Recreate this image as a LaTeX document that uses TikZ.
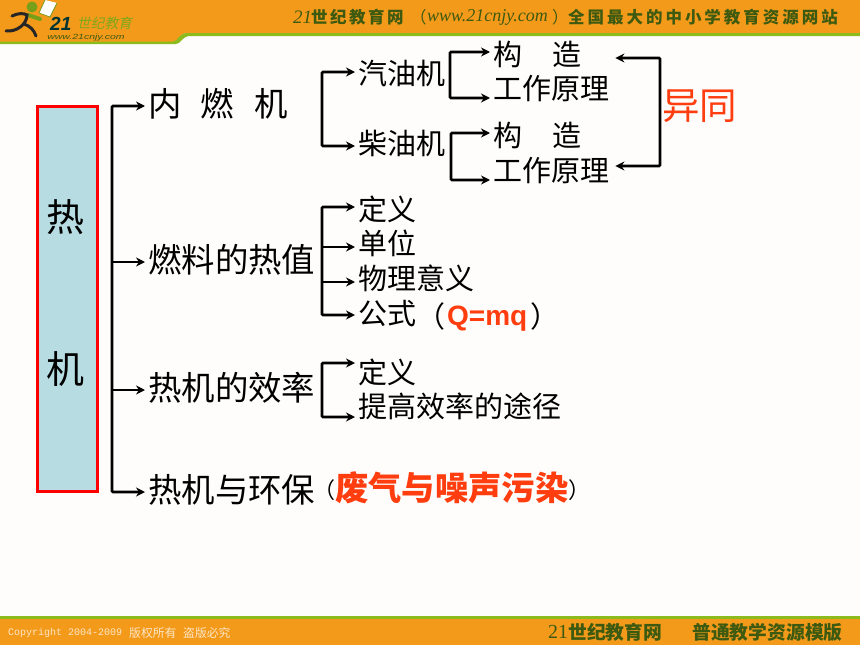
\documentclass[tikz,border=0pt]{standalone}
\usepackage{fontspec}
\setmainfont{Noto Sans CJK SC}
\newfontfamily\latinit{Liberation Serif}
\newfontfamily\latinb{Liberation Sans}
\newfontfamily\latinm{Liberation Mono}
\newfontfamily\logocjk[FakeSlant=0.2]{Noto Sans CJK SC}
\usetikzlibrary{arrows.meta}
\definecolor{bandor}{HTML}{F39A1B}
\definecolor{bandgr}{HTML}{8DBB1E}
\definecolor{darkgr}{HTML}{3E5A10}
\definecolor{redtx}{HTML}{FF3D0F}
\definecolor{boxfl}{HTML}{B7DDE3}
\definecolor{pagebg}{HTML}{FEFDFB}
\tikzset{
    TA/.style ={anchor=west,inner sep=0pt,text height=28pt,text depth=3pt,font=\fontsize{33.4}{33.4}\selectfont},
    TB/.style ={anchor=west,inner sep=0pt,text height=25pt,text depth=2pt,font=\fontsize{29}{29}\selectfont},
    TG/.style ={anchor=west,inner sep=0pt,font=\fontsize{17}{17}\selectfont,text=darkgr},
    TF/.style ={anchor=west,inner sep=0pt,text=bandor!25!white},
    HH/.style ={inner sep=0pt,font=\fontsize{38}{38}\selectfont},
    LN/.style ={line width=2.6pt,rounded corners=1pt,shorten >=3pt,shorten <=3pt},
    AR/.style ={LN,shorten <=0pt,-{Stealth[length=9pt,width=9pt]}},
    AD/.style ={LN,{Stealth[length=9pt,width=9pt]}-{Stealth[length=9pt,width=9pt]}}}

\begin{document}
\begin{tikzpicture}[x=1pt,y=-1pt]
        \useasboundingbox (0,0) rectangle (860,645);
        \fill[pagebg] (0,0) rectangle (860,645);
        \fill[bandor] (0,0) -- (860,0) -- (860,33) -- (187,33) .. controls (179,33) and (178,42) .. (173,42) -- (0,42) -- cycle;
        \fill[bandgr] (0,44) -- (176,44) .. controls (181,44) and (182,36) .. (190,36) -- (860,36) -- (860,33) -- (187,33) .. controls (179,33) and (178,41.5) .. (173,41.5) -- (0,41.5) -- cycle;
        \fill[bandgr] (0,616) rectangle (860,619);
        \fill[bandor] (0,619) rectangle (860,645);
        \fill[white] (39,13) -- (45,0) -- (57,3) -- (50,17) -- cycle;
        \draw[bandgr!80!black,line width=.7pt] (39,13) -- (45,0) (57,3) -- (50,17) -- (39,13);
        \fill[bandgr!85!black] (32,7) circle (5.5pt);
        \draw[bandgr!85!black,line width=4pt,line cap=round] (28,15) -- (40,19);
        \draw[black!85,line width=3pt,line cap=round] (12,16) .. controls (18,13) and (24,13) .. (27,15) .. controls (27,24) and (17,32) .. (6,31);
        \draw[black!85,line width=3pt,line cap=round] (24,24) .. controls (30,26) and (34,30) .. (36,36);
        \node[anchor=west,inner sep=0pt,text=black!60!teal,font=\latinb\bfseries\itshape\fontsize{19}{19}\selectfont] (LG) at(50,24){21};
        \node[anchor=west,inner sep=0pt,text=bandgr!90!black,font=\logocjk\fontsize{13.7}{13.7}\selectfont] (LC) at(77,23){世纪教育};
        \node[anchor=west,inner sep=0pt,xscale=1.4,text=darkgr,font=\latinb\itshape\fontsize{7.5}{7.5}\selectfont] (LW) at(47,38){www.21cnjy.com};
        \node[TG,font=\latinit\itshape\fontsize{19}{19}\selectfont] (H1) at(293,17){21};
        \node[TG,font=\bfseries\fontsize{16.5}{16.5}\selectfont\addfontfeature{LetterSpace=15}] (H2) at(311,17){世纪教育网};
        \node[TG,font=\fontsize{16.5}{16.5}\selectfont] (H3) at(410,17){（};
        \node[TG,font=\latinit\itshape\fontsize{18}{18}\selectfont] (H5) at(427,17){www.21cnjy.com};
        \node[TG,font=\fontsize{16.5}{16.5}\selectfont] (H6) at(552,17){）};
        \node[TG,font=\bfseries\fontsize{16.5}{16.5}\selectfont\addfontfeature{LetterSpace=18}] (H4) at(568,17){全国最大的中小学教育资源网站};
        \node[TF,font=\latinm\fontsize{10}{10}\selectfont] (F1) at(8,633){Copyright 2004-2009};
        \node[TF,font=\fontsize{11.8}{11.8}\selectfont] (F2) at(129,633){版权所有};
        \node[TF,font=\fontsize{11.8}{11.8}\selectfont] (F6) at(183,633){盗版必究};
        \node[TG,font=\latinit\fontsize{20}{20}\selectfont] (F3) at(548,632){21};
        \node[TG,font=\bfseries\fontsize{18.8}{18.8}\selectfont] (F4) at(568,632){世纪教育网};
        \node[TG,font=\bfseries\fontsize{18.8}{18.8}\selectfont] (F5) at(692,632){普通教学资源模版};
        \node[draw=red,fill=boxfl,line width=3.5pt,minimum width=60pt,minimum height=385pt,inner sep=0pt] (RE) at(67.5,299){};
        \node[HH] (R1) at(65,217){热};
        \node[HH] (R2) at(65,369){机};
        \node[TA] (A1) at(148,104){内\hspace{19pt}燃\hspace{21pt}机};
        \node[TA] (A2) at(148,260){燃料的热值};
        \node[TA] (A3) at(148,388){热机的效率};
        \node[TA] (A4) at(148,490){热机与环保};
        \node[TB] (B1) at(358,73){汽油机};
        \node[TB] (B2) at(358,143){柴油机};
        \node[TB] (C1) at(493,54){构\hspace{30pt}造};
        \node[TB] (C2) at(493,88){工作原理};
        \node[TB] (C3) at(493,135){构\hspace{30pt}造};
        \node[TB] (C4) at(493,170){工作原理};
        \node[anchor=west,inner sep=0pt,text=redtx,font=\fontsize{37.5}{37.5}\selectfont] (YT) at(662,106){异同};
        \node[TB] (D1) at(358,209){定义};
        \node[TB] (D2) at(358,243){单位};
        \node[TB] (D3) at(358,278){物理意义};
        \node[TB] (D4) at(358,313){公式};
        \node[TB] (D5) at(416,316){（};
        \node[anchor=west,inner sep=0pt,text=redtx,font=\latinb\bfseries\fontsize{28}{28}\selectfont] (D6) at(447,319){Q=mq};
        \node[TB] (D7) at(530,316){）};
        \node[TB] (E1) at(358,372){定义};
        \node[TB] (E2) at(358,406){提高效率的途径};
        \node[anchor=west,inner sep=0pt,font=\fontsize{22}{22}\selectfont] (G1) at(313,490){（};
        \node[anchor=west,inner sep=0pt,text=redtx,font=\bfseries\fontsize{33.3}{33.3}\selectfont] (G2) at(335,488){废气与噪声污染};
        \node[anchor=west,inner sep=0pt,font=\fontsize{22}{22}\selectfont] (G3) at(568,490){）};
        \coordinate (T1) at(112,106);
        \coordinate (T2) at(112,262);
        \coordinate (T3) at(112,390);
        \coordinate (T4) at(112,492);
        \coordinate (K1) at(322,72);
        \coordinate (K2) at(322,146);
        \coordinate (M1) at(450,52);
        \coordinate (M2) at(450,98);
        \coordinate (M3) at(451,133);
        \coordinate (M4) at(451,180);
        \coordinate (N1) at(660,58);
        \coordinate (N2) at(660,166);
        \coordinate (P1) at(322,207);
        \coordinate (P2) at(322,247);
        \coordinate (P3) at(322,282);
        \coordinate (P4) at(322,315);
        \coordinate (S1) at(322,363);
        \coordinate (S2) at(322,417);
        \draw[AD] (T1 -| A1.west) -- (T1) -- (T4) -- (T4 -| A4.west);
        \draw[AR] (T2) -- (T2 -| A2.west);
        \draw[AR] (T3) -- (T3 -| A3.west);
        \draw[AD] (K1 -| B1.west) -- (K1) -- (K2) -- (K2 -| B2.west);
        \draw[AD] (M1 -| C1.west) -- (M1) -- (M2) -- (M2 -| C2.west);
        \draw[AD] (M3 -| C3.west) -- (M3) -- (M4) -- (M4 -| C4.west);
        \draw[AD] ([xshift=3pt]N1 -| C2.east) -- (N1) -- (N2) -- ([xshift=3pt]N2 -| C4.east);
        \draw[AD] (P1 -| D1.west) -- (P1) -- (P4) -- (P4 -| D4.west);
        \draw[AR] (P2) -- (P2 -| D2.west);
        \draw[AR] (P3) -- (P3 -| D3.west);
        \draw[AD] (S1 -| E1.west) -- (S1) -- (S2) -- (S2 -| E2.west);
    \end{tikzpicture}
\end{document}
